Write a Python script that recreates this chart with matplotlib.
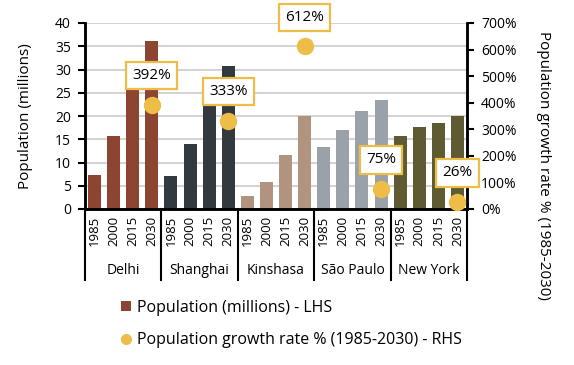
import matplotlib
matplotlib.use("Agg")
import matplotlib.pyplot as plt
from matplotlib.lines import Line2D
from matplotlib.patches import Patch

plt.rcParams['font.family'] = ['Open Sans', 'DejaVu Sans']

cities = ["Delhi", "Shanghai", "Kinshasa", "São Paulo", "New York"]
years = ["1985", "2000", "2015", "2030"]
population = {
    "Delhi": [7.3, 15.7, 25.9, 36.1],
    "Shanghai": [7.0, 14.0, 23.5, 30.7],
    "Kinshasa": [2.8, 5.9, 11.6, 20.0],
    "São Paulo": [13.3, 16.9, 21.0, 23.4],
    "New York": [15.8, 17.7, 18.6, 20.0],
}
growth = [392, 333, 612, 75, 26]
colors = ["#8b4530", "#333a3f", "#b09480", "#9aa1a8", "#5e5a32"]
dot_color = "#edbd47"

fig = plt.figure(figsize=(5.74, 3.65), dpi=100)
ax = fig.add_axes([85/574, 1-209/365, (467-85)/574, (209-23)/365])
ax2 = ax.twinx()

xs = []
labels = []
for gi, city in enumerate(cities):
    for yi, yr in enumerate(years):
        x = gi*4 + yi
        ax.bar(x, population[city][yi], width=0.68, color=colors[gi], zorder=2)
        xs.append(x)
        labels.append(yr)

ax.set_xlim(-0.5, 19.5)
ax.set_ylim(0, 40)
ax.set_yticks(range(0, 41, 5))
ax.set_xticks(xs)
ax.set_xticklabels(labels, rotation=90, fontsize=9.5)
ax.tick_params(axis='x', length=0, pad=5)
ax.tick_params(axis='y', length=5, width=1.5, labelsize=10, pad=5)
ax.set_axisbelow(True)
ax.yaxis.grid(True, color="#d4d4d4", lw=1.5)
ax.spines['top'].set_visible(False)
ax2.spines['top'].set_visible(False)
for s in ['left', 'bottom', 'right']:
    ax.spines[s].set_linewidth(1.8)
    ax2.spines[s].set_linewidth(1.8)
ax.set_ylabel("Population (millions)", fontsize=11)
ax.yaxis.set_label_coords(-(85-33)/382, 0.5)

# group separators and city names
tr = ax.get_xaxis_transform()
for b in [-0.5, 3.5, 7.5, 11.5, 15.5, 19.5]:
    ax.plot([b, b], [0, -0.38], transform=tr, color="black", lw=1.5, clip_on=False)
for gi, city in enumerate(cities):
    ax.text(gi*4 + 1.5, -0.33, city, transform=tr, ha='center', va='center', fontsize=10)

ax2.set_ylim(0, 700)
ax2.set_yticks(range(0, 701, 100))
ax2.set_yticklabels([f"{v}%" for v in range(0, 701, 100)])
ax2.tick_params(axis='y', length=5, width=1.5, labelsize=10, pad=5)
dot_x = [gi*4 + 3 for gi in range(len(cities))]
ax2.plot(dot_x, growth, 'o', color=dot_color, markersize=11.5, zorder=5, clip_on=False)
for x, g in zip(dot_x, growth):
    ax2.annotate(f"{g}%", (x, g), xytext=(0, 21), textcoords='offset points',
                 ha='center', va='center', fontsize=11, zorder=6,
                 bbox=dict(boxstyle='square,pad=0.4', fc='white', ec=dot_color, lw=1.6))

fig.text(544/574, 1-165/365, "Population growth rate % (1985-2030)", rotation=-90,
         ha='center', va='center', fontsize=11)

handles = [Patch(facecolor=colors[0]),
           Line2D([0], [0], marker='o', color='none', markerfacecolor=dot_color,
                  markeredgecolor='none', markersize=8)]
fig.legend(handles, ["Population (millions) - LHS", "Population growth rate % (1985-2030) - RHS"],
           loc='upper left', bbox_to_anchor=(121/574, 1-300/365), frameon=False,
           fontsize=11.5, handlelength=0.6, handleheight=0.6, handletextpad=0.4, labelspacing=1.0,
           borderpad=0, borderaxespad=0)

fig.savefig("out.png", dpi=100)
